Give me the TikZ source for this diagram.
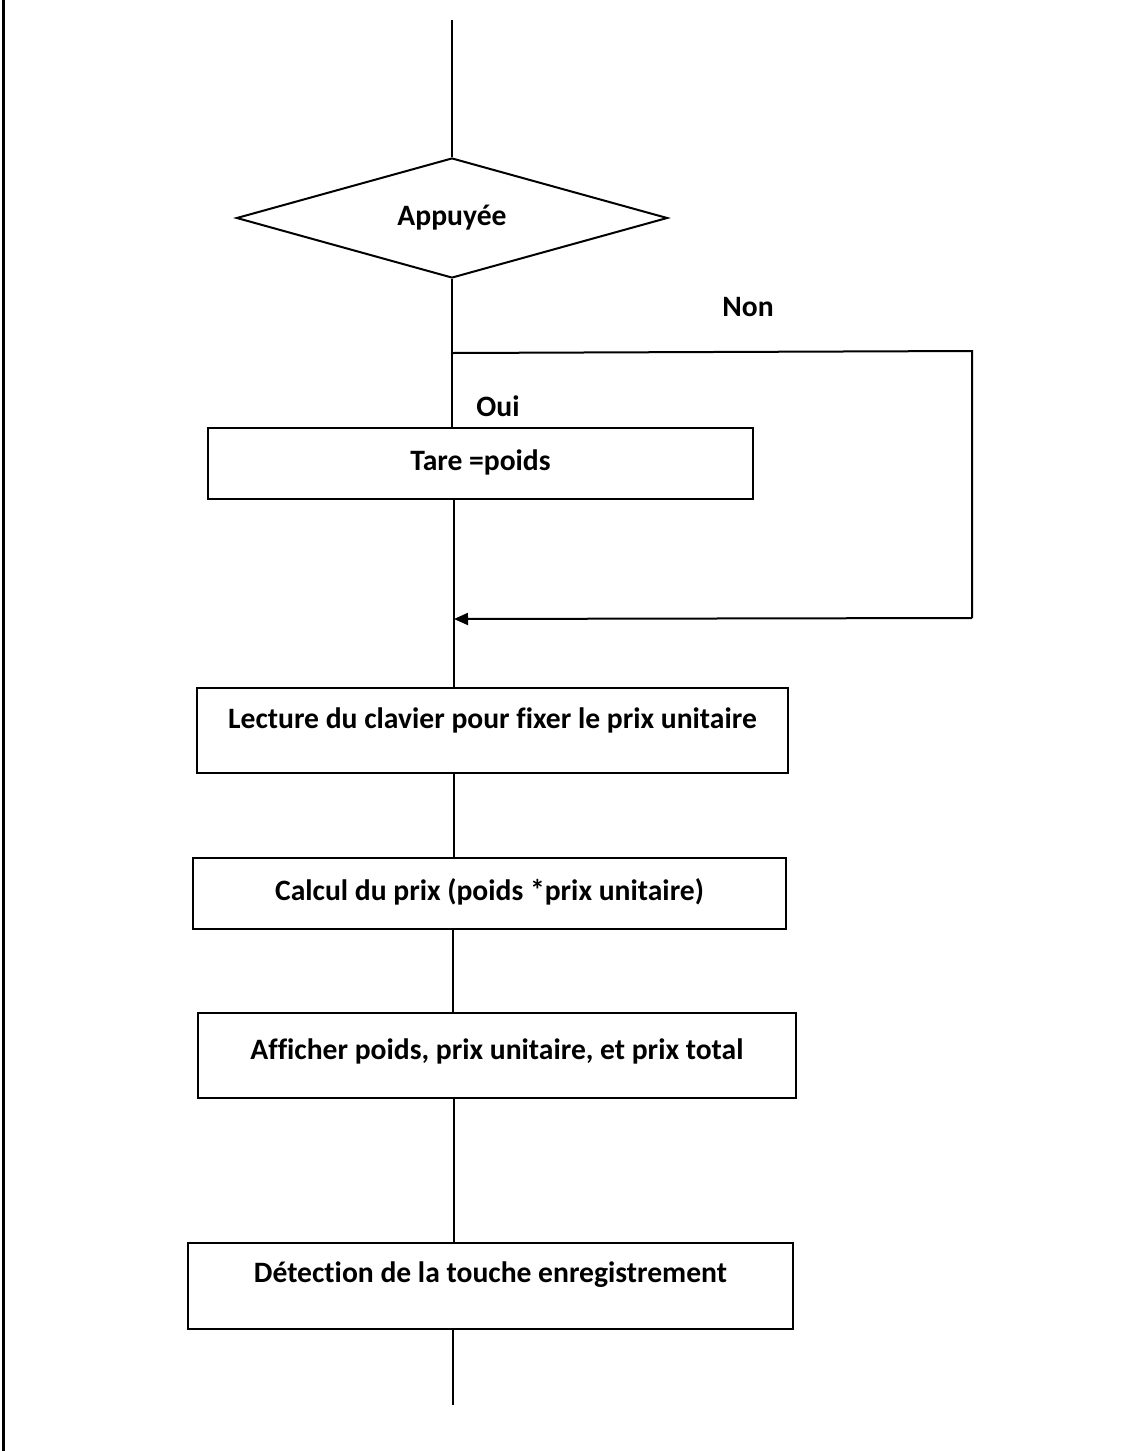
\documentclass[tikz,border=0pt]{standalone}
\usepackage{fontspec}
\setmainfont[Ligatures=NoCommon]{Carlito}
\usetikzlibrary{shapes.geometric, arrows.meta, positioning}

\tikzset{
  lbl/.style={font=\bfseries\fontsize{14.8}{17}\selectfont},
  procbox/.style={lbl, draw, rectangle, inner sep=0pt, text height=10pt, text depth=3pt},
  decision/.style={lbl, draw, diamond, inner sep=0pt, aspect=3.6},
  flow/.style={-{Triangle[length=7pt,width=6pt]}}
}

\begin{document}
\begin{tikzpicture}[x=0.5pt, y=-0.5pt, line width=1pt]
		\useasboundingbox (0,0) rectangle (1125,1451);

		% left rule of the page
		\draw[line width=1.5pt] (3,0) -- (3,1451);

		\draw (452,218) node[decision, minimum width=215.5pt, minimum height=60pt] (dec) {Appuyée}
		(480.5,463.5) node[procbox, minimum width=272.5pt, minimum height=35.5pt] (tare) {Tare =poids}
		(492.5,730.5) node[procbox, minimum width=295.5pt, minimum height=42.5pt, text depth=12.5pt] (lect) {Lecture du clavier pour fixer le prix unitaire}
		(489.5,893.5) node[procbox, minimum width=296.5pt, minimum height=35.5pt] (calc) {Calcul du prix (poids *prix unitaire)}
		(497,1055.5) node[procbox, minimum width=299pt, minimum height=42.5pt, text depth=6.5pt] (aff) {Afficher poids, prix unitaire, et prix total}
		(490.5,1286) node[procbox, minimum width=302.5pt, minimum height=43pt, text depth=14pt] (detec) {Détection de la touche enregistrement}
		(748,307) node[lbl] (non) {Non}
		(498,406) node[lbl] (oui) {Oui};

		\coordinate (top) at (452,20);
		\coordinate (br) at (453,353);
		\coordinate (nonR) at (972,351);
		\coordinate (nonB) at (972,618);
		\coordinate (join) at (454,619);
		\coordinate (bot) at (453,1405);

		\draw (top) -- (dec.north);
		\draw (dec.south) -- (dec.south |- tare.north);
		\draw (br) -- (nonR) -- (nonB);
		\draw[flow] (nonB) -- (join);
		\draw (tare.south -| join) -- (lect.north -| join);
		\draw (lect.south -| join) -- (calc.north -| join);
		\draw (calc.south -| br) -- (aff.north -| br);
		\draw (aff.south -| join) -- (detec.north -| join);
		\draw (detec.south -| bot) -- (bot);
	\end{tikzpicture}
\end{document}
